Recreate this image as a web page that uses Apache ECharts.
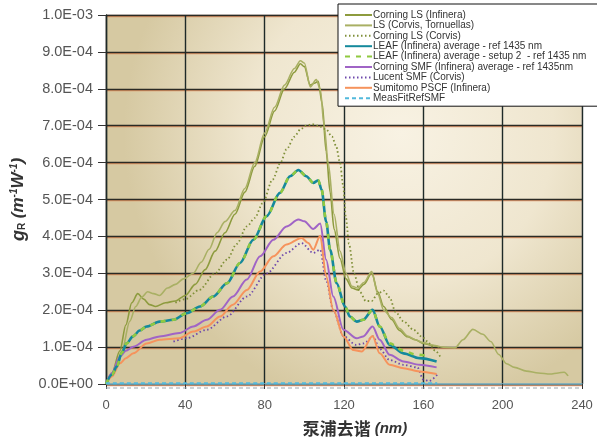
<!DOCTYPE html>
<html>
<head>
<meta charset="utf-8">
<script src="https://cdn.jsdelivr.net/npm/echarts@6/dist/echarts.min.js"></script>
<style>html,body{margin:0;padding:0;background:#fff}#c{width:597px;height:442px}</style>
</head>
<body>
<div id="c"></div>
<script>
// Values in units of 1e-4 m^-1 W^-1, x in nm (pump detuning)
const seriesNames = [
  'Corning LS (Infinera)',
  'LS (Corvis, Tornuellas)',
  'Corning LS (Corvis)',
  'LEAF (Infinera) average - ref 1435 nm',
  'LEAF (Infinera) average - setup 2  - ref 1435 nm',
  'Corning SMF (Infinera) average - ref 1435nm',
  'Lucent SMF (Corvis)',
  'Sumitomo PSCF (Infinera)',
  'MeasFitRefSMF'
];
const xTicks = [0, 40, 80, 120, 160, 200, 240];
const yTicks = [0,1,2,3,4,5,6,7,8,9,10];

const corningLSInfinera = [[0,0],[3,0.3],[7,0.9],[10,1.6],[13,2.2],[16,2.45],[19,2.3],[22,2.15],[25,2.1],[30,2.2],[35,2.25],[40,2.4],[45,2.7],[50,3.1],[55,3.6],[60,4.1],[65,4.6],[70,5.2],[75,5.9],[80,6.7],[85,7.4],[90,8.0],[95,8.45],[98,8.68],[100,8.6],[103,8.1],[105,8.15],[107,8.2],[109,7.6],[111,6.3],[113,5.2],[115,4.2],[118,3.4],[121,2.85],[124,2.6],[127,2.55],[130,2.7],[134,3.0],[137,2.5],[140,2.1],[144,1.75],[148,1.45],[152,1.28],[156,1.2],[160,1.1],[164,1.05],[168,1.0]];
const lsCorvis = [[0,0],[4,0.3],[8,0.9],[12,1.7],[15,2.1],[18,2.35],[21,2.5],[24,2.45],[27,2.4],[31,2.6],[35,2.7],[39,2.85],[44,3.0],[48,3.3],[52,3.65],[56,4.1],[60,4.4],[65,4.7],[70,5.3],[75,6.0],[80,6.8],[85,7.5],[90,8.1],[95,8.55],[98,8.76],[100,8.7],[103,8.05],[106,8.25],[108,8.0],[110,7.0],[112,6.0],[115,4.6],[118,3.6],[121,3.0],[124,2.65],[127,2.6],[130,2.75],[134,3.05],[137,2.45],[140,2.0],[144,1.8],[148,1.5],[152,1.3],[156,1.2],[160,1.12],[165,1.05],[170,1.0],[176,0.98],[180,1.2],[185,1.48],[190,1.35],[194,1.15],[198,0.8],[202,0.55],[206,0.45],[212,0.35],[218,0.3],[224,0.27],[228,0.3],[231,0.32],[233,0.22]];
const corningLSCorvis = [[35,2.2],[40,2.3],[47,2.55],[55,3.0],[61,3.37],[66,3.8],[71,4.27],[75,4.5],[79,4.9],[84,5.54],[88,6.0],[91,6.36],[95,6.7],[98,6.9],[101,7.0],[104,7.04],[107,7.0],[111,6.9],[114,6.7],[116,6.45],[118,6.0],[119.5,5.4],[121,4.5],[122.5,3.8],[125,3.0],[128,2.5],[131,2.25],[134,2.25],[137,2.45],[140,2.53],[143,2.35],[146,1.95],[150,1.7],[155,1.47],[160,1.25],[163,1.1],[166,0.9],[169,0.7]];
const leafInfinera = [[0,0],[3,0.25],[5.4,0.47],[8,0.85],[10.4,1.1],[13.6,1.29],[17,1.45],[20.5,1.56],[27,1.69],[34,1.74],[40.7,1.92],[47.4,2.1],[54,2.37],[61,2.73],[67.6,3.28],[74.3,3.91],[81,4.55],[87.7,5.18],[92.8,5.63],[97,5.8],[101,5.63],[104.5,5.45],[107,5.52],[108.7,5.27],[111,4.4],[113,3.64],[116.3,2.73],[120.5,2.1],[123,1.83],[126.4,1.69],[129.7,1.74],[134.4,2.01],[138,1.56],[143,1.06],[150,0.83],[158,0.7],[166.7,0.61]];
const leafSetup2 = [[0,0],[3,0.25],[5.4,0.47],[8,0.85],[10.4,1.1],[13.6,1.29],[17,1.45],[20.5,1.56],[27,1.69],[34,1.74],[40.7,1.92],[47.4,2.1],[54,2.37],[61,2.73],[67.6,3.28],[74.3,3.91],[81,4.55],[87.7,5.18],[92.8,5.63],[97,5.8],[101,5.63],[104.5,5.45],[107,5.52],[108.7,5.27],[111,4.4],[113,3.64],[116.3,2.73],[120.5,2.1],[123,1.83],[126.4,1.69],[129.7,1.74],[134.4,2.01],[138,1.56],[143,1.1],[150,0.9],[156,0.8],[162,0.76]];
const corningSMF = [[0,0],[3,0.3],[7,0.74],[10,0.9],[13.8,1.01],[20.5,1.2],[27,1.29],[37,1.38],[44,1.56],[50.8,1.74],[57.5,2.01],[64,2.37],[71,2.83],[77.7,3.46],[84.4,3.91],[91,4.27],[97,4.46],[100,4.41],[104.5,4.2],[108,4.35],[111,3.37],[114.6,2.37],[119.7,1.47],[126.4,1.24],[129.7,1.29],[134.4,1.56],[138,1.2],[143,0.79],[150,0.61],[158,0.52],[166.7,0.45]];
const lucentSMF = [[34,1.15],[40.7,1.24],[50.8,1.47],[61,1.83],[71,2.37],[81,3.0],[91,3.55],[98.6,3.82],[104.5,3.55],[108,3.64],[111,2.8],[114.6,2.0],[119.7,1.3],[126,1.06],[130,1.1],[134.7,1.29],[138,0.95],[143,0.65],[150,0.52],[157,0.45],[160,0.12],[163,0.08],[167.6,0.29]];
const sumitomoPSCF = [[0,0],[3,0.2],[7,0.56],[10,0.7],[13.8,0.83],[20.5,1.1],[27,1.2],[37,1.24],[44,1.42],[50.8,1.56],[57.5,1.83],[64,2.15],[71,2.55],[77.7,3.05],[84.4,3.46],[91,3.78],[98.6,3.96],[102,3.82],[104.5,3.64],[108,4.02],[111,2.92],[114.6,2.01],[119.7,1.29],[124.7,0.92],[129,0.88],[134.4,1.3],[138,0.83],[143,0.52],[150,0.43],[158,0.34],[166.7,0.27]];
const measFitRefSMF = [[0,0.02],[40,0.02],[80,0.02],[120,0.02],[167,0.02]];

const UNIT = 1e-4;
const dataSets = [corningLSInfinera, lsCorvis, corningLSCorvis, leafInfinera, leafSetup2, corningSMF, lucentSMF, sumitomoPSCF, measFitRefSMF];
const styles = [
  {color:'#8d9b3e', width:1.6, type:'solid'},
  {color:'#a9b064', width:1.6, type:'solid'},
  {color:'#7f8f38', width:1.8, type:[1.5,2.5]},
  {color:'#14899c', width:2.6, type:'solid'},
  {color:'#90c940', width:2.6, type:[5,6]},
  {color:'#a064c6', width:2, type:'solid'},
  {color:'#6e48ac', width:1.8, type:[1.5,2.5]},
  {color:'#f6935c', width:2, type:'solid'},
  {color:'#52b9dc', width:1.8, type:[4,3]}
];
const drawOrder = [0,1,2,5,6,7,3,4,8];

function fmtY(v){
  if (v === 0) return '0.0E+00';
  const s = v.toExponential(1).split('e');
  const e = parseInt(s[1],10);
  const es = (e<0?'-':'+') + String(Math.abs(e)).padStart(2,'0');
  return s[0] + 'E' + es;
}

const series = seriesNames.map((name,i)=>({
  name, type:'line', symbol:'none', smooth:0.3, smoothMonotone:'x',
  z: 2 + drawOrder.indexOf(i),
  data: dataSets[i].map(d=>[d[0], d[1]*UNIT]),
  lineStyle: {color:styles[i].color, width:styles[i].width, type:styles[i].type},
  itemStyle: {color:styles[i].color},
  emphasis:{disabled:true}
}));

const chart = echarts.init(document.getElementById('c'), null, {renderer:'canvas'});
const G = {left:106, right:15, top:15, bottom:58};
chart.setOption({
  animation:false,
  backgroundColor:'#ffffff',
  textStyle:{fontFamily:'Liberation Sans, Arial, sans-serif'},
  grid:{left:G.left, right:G.right, top:G.top, bottom:G.bottom, show:true,
    containLabel:false, outerBoundsMode:'none',
    borderColor:'#c9b9b0', borderWidth:1,
    backgroundColor:{type:'radial', x:0.62, y:0.32, r:0.75,
      colorStops:[{offset:0,color:'#f8f2e3'},{offset:0.55,color:'#efe6cf'},{offset:1,color:'#d6c9a2'}]}},
  legend:{
    orient:'vertical', left:338, top:4, data:seriesNames,
    backgroundColor:'#ffffff', borderColor:'#111', borderWidth:1,
    padding:[6,30,3,6], itemWidth:27, itemHeight:10, itemGap:0.4,
    itemStyle:{opacity:0},
    textStyle:{fontSize:10, color:'#333', fontFamily:'Liberation Sans, Arial, sans-serif', padding:[0,0,0,-4]},
    selectedMode:false
  },
  xAxis:{
    type:'value', min:0, max:240, interval:40,
    axisLine:{show:true, onZero:false, lineStyle:{color:'#7fb8c8', width:1.5}},
    axisTick:{show:true, length:5, lineStyle:{color:'#333'}},
    axisLabel:{color:'#555', fontSize:13, margin:15, formatter:v=> xTicks.includes(v)? String(v):''},
    splitLine:{show:true, lineStyle:{color:'#1e2a28', width:1.4}},
    name:'{a|泵浦去谐 }{b|(nm)}', nameLocation:'middle', nameGap:36,
    nameTextStyle:{padding:[0,0,0,22], rich:{
      a:{fontSize:17, fontWeight:'bold', color:'#333', fontFamily:'Noto Sans CJK SC, sans-serif'},
      b:{fontSize:15, fontWeight:'bold', fontStyle:'italic', color:'#333', fontFamily:'Liberation Sans, Arial'}}}
  },
  yAxis:{
    type:'value', min:0, max:10*UNIT, interval:UNIT,
    axisLine:{show:true, lineStyle:{color:'#1e2a28', width:1.4}},
    axisTick:{show:true, length:8, inside:false, lineStyle:{color:'#333'}},
    axisLabel:{color:'#555', fontSize:14.5, margin:13, formatter:v=>fmtY(v)},
    splitLine:{show:true, lineStyle:{color:'#2a2a24', width:1.3, shadowColor:'rgba(225,125,70,0.7)', shadowBlur:0, shadowOffsetY:1}},
    name:'{g|g}{s|R}{p| (m}{u|-1}{p|W}{u|-1}{p|)}', nameLocation:'middle', nameGap:72, nameRotate:90,
    nameTextStyle:{rich:{
      g:{fontSize:18, fontWeight:'bold', fontStyle:'italic', color:'#333'},
      s:{fontSize:10, fontWeight:'bold', color:'#333', verticalAlign:'bottom', padding:[6,0,0,0]},
      p:{fontSize:17, fontWeight:'bold', fontStyle:'italic', color:'#333'},
      u:{fontSize:10, fontWeight:'bold', fontStyle:'italic', color:'#333', verticalAlign:'top', padding:[0,0,6,0]}}}
  },
  graphic:[{type:'line', z:100, shape:{x1:G.left, y1:442-G.bottom+4, x2:597-G.right, y2:442-G.bottom+4},
    style:{stroke:'#9aa6ad', lineWidth:1, lineDash:[4,3]}}],
  series
});
</script>
</body>
</html>
